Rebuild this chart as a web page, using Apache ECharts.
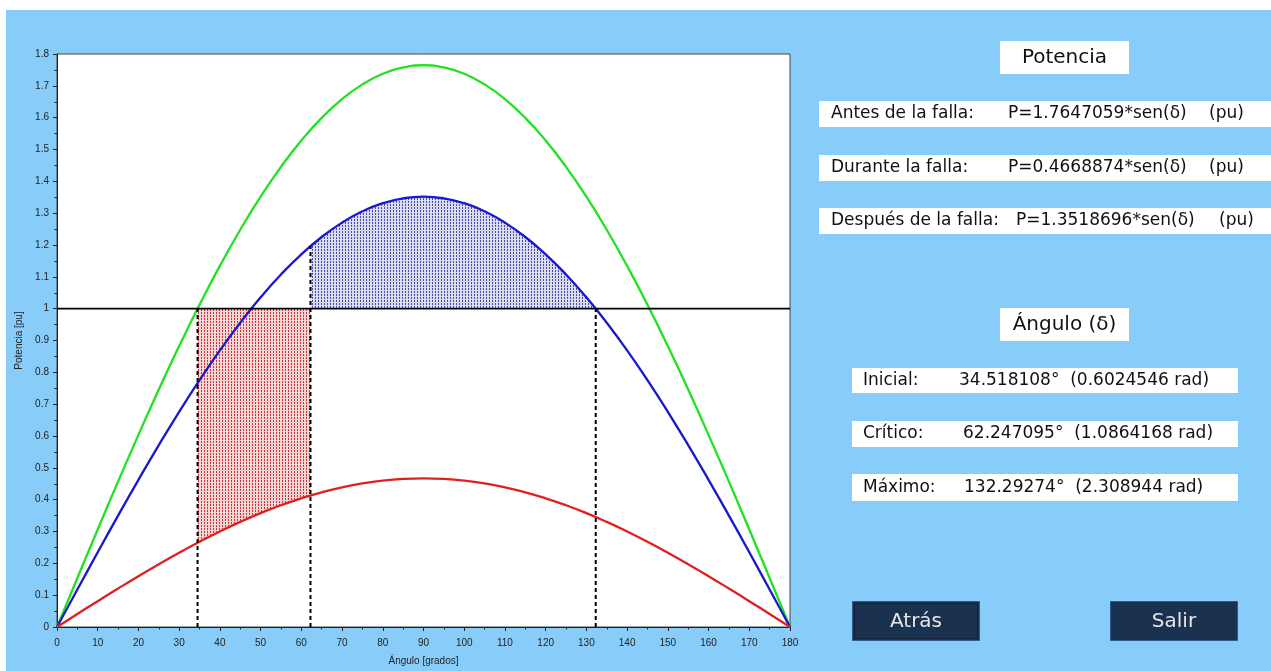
<!DOCTYPE html>
<html>
<head>
<meta charset="utf-8">
<script src="https://cdn.jsdelivr.net/npm/echarts@6/dist/echarts.min.js"></script>
<style>
html,body{margin:0;padding:0;background:#fff;width:1271px;height:671px;overflow:hidden;}
#bg{position:absolute;left:6px;top:10px;right:0;bottom:0;background:#88CDFA;}
#chart{position:absolute;left:0;top:0;width:1271px;height:671px;}
</style>
</head>
<body>
<div id="bg"></div>
<div id="chart"></div>
<script>
// ---- data ----
const angulos = [0,5,10,15,20,25,30,35,40,45,50,55,60,65,70,75,80,85,90,95,100,105,110,115,120,125,130,135,140,145,150,155,160,165,170,175,180];
const pAntes = [0,0.1538,0.3064,0.4567,0.6036,0.7458,0.8824,1.0122,1.1343,1.2478,1.3518,1.4456,1.5283,1.5994,1.6583,1.7046,1.7379,1.7580,1.7647,1.7580,1.7379,1.7046,1.6583,1.5994,1.5283,1.4456,1.3518,1.2478,1.1343,1.0122,0.8824,0.7458,0.6036,0.4567,0.3064,0.1538,0];
const pDespues = [0,0.1178,0.2348,0.3499,0.4624,0.5713,0.6759,0.7754,0.8690,0.9559,1.0356,1.1074,1.1708,1.2252,1.2703,1.3058,1.3313,1.3467,1.3519,1.3467,1.3313,1.3058,1.2703,1.2252,1.1708,1.1074,1.0356,0.9559,0.8690,0.7754,0.6759,0.5713,0.4624,0.3499,0.2348,0.1178,0];
const pDurante = [0,0.0407,0.0811,0.1208,0.1597,0.1973,0.2334,0.2678,0.3001,0.3301,0.3577,0.3825,0.4043,0.4231,0.4387,0.4510,0.4598,0.4651,0.4669,0.4651,0.4598,0.4510,0.4387,0.4231,0.4043,0.3825,0.3577,0.3301,0.3001,0.2678,0.2334,0.1973,0.1597,0.1208,0.0811,0.0407,0];
const pMecanica = 1;
const deltas = [34.518108, 62.247095, 132.29274];          // inicial, crítico, máximo
const duranteEnDeltas = [0.2646, 0.4132, 0.3455];
const despuesEnDeltas = [0.7661, 1.1964, 1.0000];
const xTicks = {min:0, max:180, step:10};
const yTicks = {min:0, max:1.8, step:0.1};

// ---- build helper series ----
const pairs = (ys) => angulos.map((a, i) => [a, ys[i]]);
const inner = (ys, lo, hi) => angulos.map((a, i) => [a, ys[i]]).filter(p => p[0] > lo && p[0] < hi);

const redPoly = [[deltas[0], pMecanica], [deltas[1], pMecanica], [deltas[1], duranteEnDeltas[1]]]
  .concat(inner(pDurante, deltas[0], deltas[1]).reverse())
  .concat([[deltas[0], duranteEnDeltas[0]]]);
const bluePoly = [[deltas[1], pMecanica], [deltas[1], despuesEnDeltas[1]]]
  .concat(inner(pDespues, deltas[1], deltas[2]))
  .concat([[deltas[2], despuesEnDeltas[2]]]);

function makePattern(bg, fg, w) {
  const c = document.createElement('canvas');
  c.width = w; c.height = 3;
  const ctx = c.getContext('2d');
  ctx.fillStyle = bg; ctx.fillRect(0, 0, w, 3);
  ctx.fillStyle = fg; ctx.fillRect(0, 0, 1, 2);
  return {image: c, repeat: 'repeat'};
}
const redPattern = makePattern('#f4d6d6', '#c83434', 3);
const bluePattern = makePattern('#dadcf0', '#4a4daa', 3);

function polySeries(poly, pattern) {
  return {
    type: 'custom', coordinateSystem: 'cartesian2d', z: 1, silent: true,
    data: [[poly[0][0], poly[0][1]]],
    renderItem: function (params, api) {
      return {type: 'polygon', shape: {points: poly.map(p => api.coord(p))}, style: {fill: pattern, stroke: null}};
    }
  };
}
function dashed(x, yTop) {
  return {type: 'line', data: [[x, 0], [x, yTop]], showSymbol: false, silent: true, z: 4,
    lineStyle: {color: '#000', width: 2, type: [4, 3]}};
}

const font = 'DejaVu Sans';
const txt = (x, y, s, size, align) => ({type: 'text', x: x, y: y, style: {text: s, fontFamily: font, fontSize: size || 17, fill: '#111', align: align || 'left', verticalAlign: 'middle'}});
const box = (x, y, w, h, fill) => ({type: 'rect', shape: {x: x, y: y, width: w, height: h}, style: {fill: fill || '#fff'}});

const chart = echarts.init(document.getElementById('chart'), null, {renderer: 'canvas'});
chart.setOption({
  animation: false,
  backgroundColor: 'transparent',
  grid: {left: 57, top: 54, width: 733, height: 576, show: true, backgroundColor: '#fff', borderColor: '#444', borderWidth: 1},
  xAxis: {
    type: 'value', min: xTicks.min, max: xTicks.max, interval: xTicks.step,
    axisLine: {onZero: false, lineStyle: {color: '#222', width: 1}},
    axisTick: {length: 4, lineStyle: {color: '#222'}},
    minorTick: {show: true, splitNumber: 2, length: 2.5, lineStyle: {color: '#222'}},
    splitLine: {show: false},
    axisLabel: {fontSize: 10, color: '#222', margin: 11, fontFamily: 'Liberation Sans'},
    name: 'Ángulo [grados]', nameLocation: 'middle', nameGap: 29,
    nameTextStyle: {fontSize: 10, color: '#222', fontFamily: 'Liberation Sans'}
  },
  yAxis: {
    type: 'value', min: yTicks.min, max: yTicks.max, interval: yTicks.step,
    axisLine: {onZero: false, lineStyle: {color: '#222', width: 1}},
    axisTick: {length: 4, lineStyle: {color: '#222'}},
    minorTick: {show: true, splitNumber: 2, length: 2.5, lineStyle: {color: '#222'}},
    splitLine: {show: false},
    axisLabel: {fontSize: 10, color: '#222', margin: 8, fontFamily: 'Liberation Sans'},
    name: 'Potencia [pu]', nameLocation: 'middle', nameGap: 28,
    nameTextStyle: {fontSize: 10, color: '#222', fontFamily: 'Liberation Sans'}
  },
  series: [
    polySeries(redPoly, redPattern),
    polySeries(bluePoly, bluePattern),
    {type: 'line', name: 'Antes', data: pairs(pAntes), smooth: true, showSymbol: false, z: 3, lineStyle: {color: '#22e022', width: 2.3}},
    {type: 'line', name: 'Después', data: pairs(pDespues), smooth: true, showSymbol: false, z: 3, lineStyle: {color: '#1818cc', width: 2.3}},
    {type: 'line', name: 'Durante', data: pairs(pDurante), smooth: true, showSymbol: false, z: 3, lineStyle: {color: '#e02020', width: 2.3}},
    {type: 'line', name: 'Pm', data: [[xTicks.min, pMecanica], [xTicks.max, pMecanica]], showSymbol: false, z: 4, lineStyle: {color: '#000', width: 1.6}},
    dashed(deltas[0], pMecanica),
    dashed(deltas[1], despuesEnDeltas[1]),
    dashed(deltas[2], despuesEnDeltas[2])
  ],
  graphic: [
    box(1000, 41, 129, 33), txt(1064.5, 58, 'Potencia', 20, 'center'),
    box(819, 101, 452, 26), txt(831, 114, 'Antes de la falla:'), txt(1008, 114, 'P=1.7647059*sen(δ)'), txt(1209, 114, '(pu)'),
    box(819, 155, 452, 26), txt(831, 168, 'Durante la falla:'), txt(1008, 168, 'P=0.4668874*sen(δ)'), txt(1209, 168, '(pu)'),
    box(819, 208, 452, 26), txt(831, 221, 'Después de la falla:'), txt(1016, 221, 'P=1.3518696*sen(δ)'), txt(1219, 221, '(pu)'),
    box(1000, 308, 129, 33), txt(1064.5, 325, 'Ángulo (δ)', 20, 'center'),
    box(852, 368, 386, 25), txt(863, 381, 'Inicial:'), txt(959, 381, '34.518108°  (0.6024546 rad)'),
    box(852, 421, 386, 26), txt(863, 434, 'Crítico:'), txt(963, 434, '62.247095°  (1.0864168 rad)'),
    box(852, 474, 386, 27), txt(863, 488, 'Máximo:'), txt(964, 488, '132.29274°  (2.308944 rad)'),
    {type: 'rect', shape: {x: 852.5, y: 601.5, width: 127, height: 39}, style: {fill: '#1a3250', stroke: '#2c5d8a', lineWidth: 1}},
    {type: 'rect', shape: {x: 854.5, y: 603.5, width: 123, height: 35}, style: {fill: null, stroke: '#0c1522', lineWidth: 1, lineDash: [1, 1]}},
    {type: 'text', x: 916, y: 622, style: {text: 'Atrás', fontFamily: font, fontSize: 20, fill: '#e6e6e6', align: 'center', verticalAlign: 'middle'}},
    {type: 'rect', shape: {x: 1110.5, y: 601.5, width: 127, height: 39}, style: {fill: '#1a3250', stroke: '#2c5d8a', lineWidth: 1}},
    {type: 'text', x: 1174, y: 622, style: {text: 'Salir', fontFamily: font, fontSize: 20, fill: '#e6e6e6', align: 'center', verticalAlign: 'middle'}}
  ]
});
</script>
</body>
</html>
